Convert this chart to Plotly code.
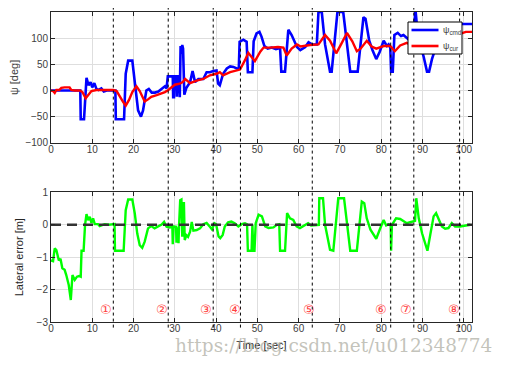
import plotly.graph_objects as go

# ---------------- data ----------------
psi_cmd_points = [
    (0, 0), (7.1, 0), (7.2, -55), (8.0, -55), (8.6, 24), (9.1, 10), (9.6, 16), (10.0, 6),
    (10.5, 14), (11.0, 3), (11.5, 1), (12.2, 4), (12.8, -2), (13.5, 0), (15.6, 0),
    (15.7, -55), (17.7, -55), (18.1, 32), (18.7, 57), (19.7, 57), (20.3, 16), (21.1, -38),
    (21.8, -50), (22.3, -38), (23.1, 0), (23.7, 3), (24.4, -4), (25.2, -4), (26.0, -2),
    (26.8, 3), (27.6, 8), (28.0, 4), (28.3, 27), (29.5, 27), (29.6, -13), (29.8, -13),
    (29.9, 27), (30.4, 27), (30.5, -12), (30.6, 27), (31.0, 27), (31.2, -13), (31.4, 85),
    (31.6, 70), (31.8, 87), (32.0, 80), (32.3, -8), (32.8, 5), (33.7, 16), (34.3, 37),
    (34.9, 16), (35.7, 22), (36.9, 22), (37.7, 35), (38.5, 35), (39.3, 37), (40.1, 38),
    (40.5, 13), (40.9, 10), (41.7, 32), (42.6, 42), (43.4, 46), (44.2, 45), (45.0, 42),
    (45.5, 42), (45.7, 93), (46.6, 97), (47.4, 93), (47.7, 35), (48.8, 35), (49.1, 94),
    (49.8, 109), (50.5, 112), (51.0, 103), (51.7, 85), (52.5, 80), (53.5, 82), (54.5, 79),
    (55.5, 81), (55.8, 36), (56.7, 36), (57.5, 116), (58.3, 106), (59.6, 83), (60.4, 77),
    (61.6, 83), (62.4, 92), (63.2, 88), (64.4, 88), (64.8, 150), (65.6, 150), (66.4, 88),
    (67.6, 36), (68.0, 36), (69.4, 150), (70.8, 150), (72.5, 36), (74.3, 36), (75.7, 140),
    (76.2, 137), (77.1, 95), (77.9, 77), (78.8, 60), (79.6, 73), (80.6, 95), (81.4, 85),
    (81.8, 88), (82.2, 82), (82.4, 36), (82.8, 36), (83.2, 106), (84.0, 110), (84.8, 104),
    (85.4, 106), (86.2, 100), (87.0, 95), (87.8, 100), (88.3, 155), (88.7, 120),
    (89.5, 88), (90.3, 64), (91.1, 36), (91.6, 36), (92.3, 60), (93.0, 77), (95.0, 110),
    (97.0, 122), (99.0, 127), (100.5, 127), (102, 127),
]

psi_cur_points = [
    (0, 0), (0.5, -1), (0.9, -4.5), (1.3, 1), (2.0, 1), (2.5, 5), (3.3, 6), (4.5, 6),
    (4.9, 1), (5.75, 0), (7.0, 0), (7.6, -3), (8.4, -15), (9.0, -8), (9.8, -1), (11.0, 1),
    (15.1, 1), (15.9, -1), (16.7, -13), (17.5, -22), (18.1, -29), (18.9, -18), (19.7, -3),
    (20.7, 8), (21.5, -1), (22.2, -13), (22.7, -21), (23.5, -17), (24.3, -12), (25.6, -9),
    (26.8, -6), (27.6, -3), (28.4, 1), (29.2, 6), (30.0, 11), (31.2, 13), (31.9, 16),
    (32.5, 22), (33.7, 14), (35.3, 19), (36.9, 22), (38.5, 29), (40.1, 32), (40.9, 35),
    (41.7, 29), (43.4, 35), (45.0, 38), (45.8, 40), (47.0, 58), (47.8, 72), (48.6, 64),
    (49.4, 56), (50.7, 74), (51.5, 82), (53.0, 82), (55.0, 83), (56.3, 82), (57.1, 67),
    (58.3, 80), (59.6, 88), (60.5, 84), (62.8, 87), (64.8, 88), (66.4, 106), (67.6, 95),
    (69.1, 71), (70.4, 90), (71.7, 110), (73.0, 94), (74.1, 75), (75.0, 80), (76.5, 95),
    (77.7, 84), (78.8, 80), (80.6, 85), (82.2, 85), (83.3, 75), (84.6, 86), (86.2, 91),
    (87.0, 88), (90.0, 95), (95.0, 100), (99.0, 108), (100.5, 112), (102, 112),
]

lateral_error_points = [
    (0, -1.1), (0.5, -1.12), (0.9, -0.73), (1.3, -0.78), (1.9, -1.1), (2.3, -1.05),
    (2.75, -1.34), (3.3, -1.39), (3.7, -1.55), (4.3, -1.86), (4.8, -2.32), (5.2, -1.55),
    (5.75, -1.7), (6.3, -1.6), (6.8, -1.58), (7.2, -1.6), (7.4, -0.8), (7.9, -0.8),
    (8.25, 0.0), (8.6, 0.33), (9.0, 0.14), (9.4, 0.25), (9.8, 0.06), (10.2, 0.2),
    (10.6, 0.02), (11.4, 0.02), (11.8, -0.04), (13.0, 0.02), (14.0, 0.0), (15.1, 0.02),
    (15.4, 0.02), (15.5, -0.8), (17.6, -0.8), (18.1, 0.45), (18.7, 0.78), (19.7, 0.78),
    (20.3, 0.35), (20.9, -0.27), (21.5, -0.63), (22.1, -0.71), (22.7, -0.52), (23.5, -0.11),
    (24.3, -0.04), (25.1, -0.11), (25.9, -0.06), (26.8, 0.01), (27.4, 0.09), (28.0, -0.06),
    (28.8, -0.08), (29.4, -0.06), (29.5, -0.6), (29.7, -0.05), (30.3, -0.06), (30.4, -0.55),
    (30.6, -0.08), (30.9, -0.57), (31.0, -0.1), (31.3, 0.76), (31.6, 0.78), (31.8, -0.37),
    (32.0, 0.04), (32.2, 0.7), (32.4, -0.47), (32.8, -0.32), (33.2, -0.37), (33.7, -0.21),
    (34.1, 0.09), (34.5, -0.18), (35.3, -0.16), (36.1, -0.11), (36.9, 0.02), (37.7, 0.06),
    (38.5, -0.06), (39.0, -0.14), (39.6, 0.05), (40.0, 0.02), (40.6, -0.36), (41.0, -0.41),
    (41.6, -0.31), (42.1, -0.05), (42.9, 0.08), (43.7, 0.1), (44.5, 0.05), (45.4, -0.05),
    (46.2, 0.02), (47.0, 0.05), (47.5, 0.02), (47.7, -0.8), (48.6, -0.8), (48.8, 0.0),
    (49.0, -0.8), (49.3, -0.8), (49.6, 0.05), (50.3, 0.31), (51.1, 0.26), (51.9, -0.05),
    (52.7, -0.1), (53.9, -0.08), (54.7, 0.0), (55.3, 0.02), (55.5, -0.8), (56.7, -0.8),
    (57.2, 0.36), (57.9, 0.2), (58.7, 0.15), (59.5, -0.05), (60.3, -0.1), (61.5, 0.0),
    (62.3, 0.05), (63.0, -0.02), (64.4, 0.0), (64.9, 0.0), (65.0, 0.82), (65.9, 0.82),
    (66.4, 0.0), (67.2, -0.46), (67.6, -0.77), (68.4, -0.8), (68.8, -0.3), (69.6, 0.82),
    (71.0, 0.82), (72.5, -0.8), (74.1, -0.8), (75.3, 0.72), (75.9, 0.67), (76.5, 0.2),
    (77.4, -0.15), (78.8, -0.43), (79.8, -0.1), (80.6, 0.15), (81.2, -0.02), (81.8, 0.02),
    (82.3, 0.0), (82.4, -0.8), (82.6, 0.0), (83.2, 0.15), (83.6, 0.2), (84.6, 0.18),
    (85.4, 0.12), (86.2, 0.05), (87.0, 0.08), (87.8, 0.12), (88.2, 0.12), (88.5, 0.82),
    (89.1, 0.2), (89.9, -0.26), (90.7, -0.62), (91.2, -0.8), (91.9, -0.3), (92.7, 0.26),
    (93.3, 0.36), (93.9, 0.2), (94.7, -0.05), (95.5, -0.12), (96.3, -0.1), (97.1, 0.05),
    (97.9, -0.05), (99.1, -0.05), (100.3, -0.02), (101.6, 0.0),
]

segment_times = [15.1, 28.4, 39.3, 45.9, 63.3, 82.3, 87.9, 99.0]
segment_labels = ["①", "②", "③", "④", "⑤", "⑥", "⑦", "⑧"]
segment_label_times = [13.3, 27.0, 37.6, 44.6, 62.4, 80.0, 86.1, 97.6]
segment_label_level = -2.62
reference_error = [(0, 0), (102, 0)]

series_names = ["ψ<sub>cmd</sub>", "ψ<sub>cur</sub>"]
series_colors = ["#0000ff", "#ff0000"]

x_ticks = [0, 10, 20, 30, 40, 50, 60, 70, 80, 90, 100]
psi_ticks = [-100, -50, 0, 50, 100, 150]
err_ticks = [-3, -2, -1, 0, 1]

# ---------------- figure ----------------
def unzip(points):
    return [p[0] for p in points], [p[1] for p in points]

t_cmd, v_cmd = unzip(psi_cmd_points)
t_cur, v_cur = unzip(psi_cur_points)
t_err, v_err = unzip(lateral_error_points)
t_ref, v_ref = unzip(reference_error)

fig = go.Figure()
fig.add_trace(go.Scatter(x=t_cmd, y=v_cmd, mode="lines", name=series_names[0], showlegend=False,
                         line=dict(color=series_colors[0], width=2.6), xaxis="x", yaxis="y"))
fig.add_trace(go.Scatter(x=t_cur, y=v_cur, mode="lines", name=series_names[1], showlegend=False,
                         line=dict(color=series_colors[1], width=2.4), xaxis="x", yaxis="y"))
fig.add_trace(go.Scatter(x=t_err, y=v_err, mode="lines", showlegend=False,
                         line=dict(color="#00ff00", width=2.4), xaxis="x2", yaxis="y2"))
fig.add_trace(go.Scatter(x=t_ref, y=v_ref, mode="lines", showlegend=False,
                         line=dict(color="#333333", width=2.5, dash="10px,6px"),
                         xaxis="x2", yaxis="y2"))

SANS = "Liberation Sans, Arial, sans-serif"
tick_font = dict(family=SANS, size=10, color="#404040")
axis_common = dict(
    showline=True, linecolor="#262626", linewidth=1, mirror="ticks",
    ticks="inside", ticklen=4, tickcolor="#262626",
    showgrid=True, gridcolor="#dedede", gridwidth=1, zeroline=False,
    tickfont=tick_font,
)

# page body has an 8px default margin, so the figure is sized to fit the window
W, H = 497, 357
ML, MR, MT, MB = 43, 33, 4, 43
plot_w = W - ML - MR
plot_h = H - MT - MB

def px(x):
    return (x - ML) / plot_w

def py(y):
    return 1 - (y - MT) / plot_h

fig.update_layout(
    width=W, height=H,
    margin=dict(l=ML, r=MR, t=MT, b=MB, autoexpand=False),
    paper_bgcolor="white", plot_bgcolor="white",
    showlegend=False,
    xaxis=dict(domain=[0, 1], range=[0, 102], tickvals=x_ticks, anchor="y",
               ticklabelstandoff=-3, **axis_common),
    yaxis=dict(domain=[0.578, 1.0], range=[-100, 150], tickvals=psi_ticks, anchor="x",
               title=dict(text="ψ [deg]", standoff=8,
                          font=dict(family=SANS, size=11, color="#404040")),
               **axis_common),
    xaxis2=dict(domain=[0, 1], range=[0, 102], tickvals=x_ticks, anchor="y2",
                ticklabelstandoff=-3,
                title=dict(text="Time [sec]", standoff=8,
                           font=dict(family=SANS, size=11, color="#262626")),
                **axis_common),
    yaxis2=dict(domain=[0.0, 0.418], range=[-3, 1], tickvals=err_ticks, anchor="x2",
                title=dict(text="Lateral error [m]", standoff=10,
                           font=dict(family=SANS, size=11, color="#262626")),
                **axis_common),
)

for t in segment_times:
    fig.add_shape(type="line", xref="x", yref="paper", x0=t, x1=t,
                  y0=-0.018, y1=1.0 + 5 / plot_h,
                  line=dict(color="black", width=1, dash="dot"), layer="above")

# legend box (compact, MATLAB-like), drawn above the lines
fig.add_shape(type="rect", xref="paper", yref="paper",
              x0=px(400), x1=px(454), y0=py(46), y1=py(14),
              fillcolor="white", line=dict(color="black", width=1), layer="above")
for i, (name, color) in enumerate(zip(series_names, series_colors)):
    yy = 22 + 16 * i
    fig.add_shape(type="line", xref="paper", yref="paper",
                  x0=px(403.5), x1=px(430.5), y0=py(yy), y1=py(yy),
                  line=dict(color=color, width=2.6), layer="above")
    fig.add_annotation(x=px(432.5), y=py(yy + 0.5), xref="paper", yref="paper", text=name,
                       showarrow=False, xanchor="left", yanchor="middle",
                       font=dict(family=SANS, size=9, color="#404040"))

for t, lab in zip(segment_label_times, segment_labels):
    fig.add_annotation(x=t, y=segment_label_level, xref="x2", yref="y2", text=lab,
                       showarrow=False,
                       font=dict(family="DejaVu Sans, Noto Sans CJK SC", size=13, color="#ff4040"))

fig.add_annotation(x=px(486), y=py(337), xref="paper", yref="paper",
                   text="https://blog.csdn.net/u012348774",
                   showarrow=False, xanchor="right", yanchor="middle",
                   font=dict(family="DejaVu Serif, Liberation Serif, serif", size=18.5,
                             color="rgba(175,175,165,0.75)"))

fig.write_html("out.html")
